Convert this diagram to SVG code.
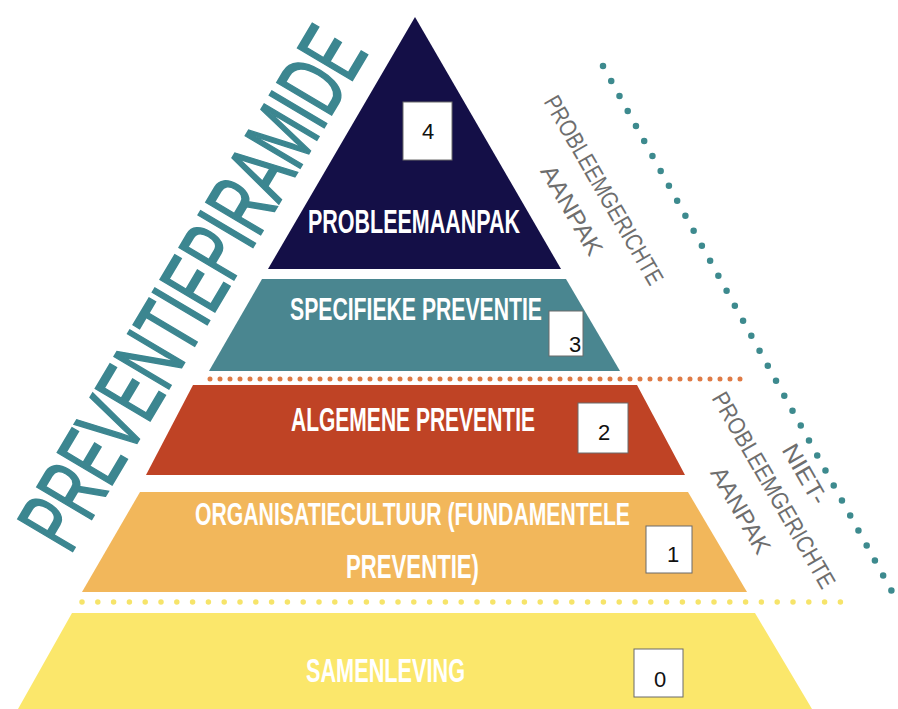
<svg xmlns="http://www.w3.org/2000/svg" width="898" height="709" viewBox="0 0 898 709">
  <style>
    .lbl { font-family: "Liberation Sans", Arial, sans-serif; font-weight: bold; fill: #ffffff; }
    .side { font-family: "Liberation Sans", Arial, sans-serif; font-size: 24px; fill: #6e6e6e; text-anchor: middle; }
    .num { font-family: "Liberation Sans", Arial, sans-serif; font-size: 22px; fill: #111111; text-anchor: middle; }
    .box { fill: #ffffff; stroke: #6a6a6a; stroke-width: 1; }
    .dots { fill: none; stroke-linecap: round; }
  </style>
  <rect x="0" y="0" width="898" height="709" fill="#ffffff"/>

  <g id="title">
    <text transform="translate(72,552) rotate(-59.3)" x="-4" y="0" font-family="Liberation Sans, Arial, sans-serif" font-size="92" fill="#3c8690" stroke="#3c8690" stroke-width="2" textLength="585" lengthAdjust="spacingAndGlyphs">PREVENTIEPIRAMIDE</text>
  </g>

  <g id="tier4">
    <polygon points="415,17 561,269 268,269" fill="#140f47"/>
    <text class="lbl" x="308" y="233" font-size="34" textLength="212" lengthAdjust="spacingAndGlyphs">PROBLEEMAANPAK</text>
    <rect class="box" x="403" y="102" width="49" height="58"/>
    <text class="num" x="428" y="139">4</text>
  </g>

  <g id="tier3">
    <polygon points="262,279 566,279 620,371 209,371" fill="#4a8690"/>
    <text class="lbl" x="290" y="320" font-size="32" textLength="252" lengthAdjust="spacingAndGlyphs">SPECIFIEKE PREVENTIE</text>
    <rect class="box" x="549" y="311" width="34" height="45"/>
    <text class="num" x="575" y="352" font-size="19">3</text>
  </g>

  <g id="tier2">
    <polygon points="193,385 637,385 685,475 146,475" fill="#bf4325"/>
    <text class="lbl" x="291" y="431" font-size="33" textLength="244" lengthAdjust="spacingAndGlyphs">ALGEMENE PREVENTIE</text>
    <rect class="box" x="578" y="403" width="50" height="50"/>
    <text class="num" x="604" y="440">2</text>
  </g>

  <g id="tier1">
    <polygon points="140,492 688,492 747,592 82,592" fill="#f2b75b"/>
    <text class="lbl" x="195" y="525" font-size="32" fill="#fff6e4" textLength="435" lengthAdjust="spacingAndGlyphs">ORGANISATIECULTUUR (FUNDAMENTELE</text>
    <text class="lbl" x="346" y="578" font-size="33" fill="#fff6e4" textLength="133" lengthAdjust="spacingAndGlyphs">PREVENTIE)</text>
    <rect class="box" x="646" y="526" width="46" height="47"/>
    <text class="num" x="673" y="562">1</text>
  </g>

  <g id="tier0">
    <polygon points="72,613 755,613 812,709 18,709" fill="#fbe76b"/>
    <text class="lbl" x="306" y="682" font-size="34" fill="#fffbe2" textLength="159" lengthAdjust="spacingAndGlyphs">SAMENLEVING</text>
    <rect class="box" x="634" y="649" width="49" height="48"/>
    <text class="num" x="660" y="687">0</text>
  </g>

  <g id="side-labels">
    <text class="side" transform="translate(604,190) rotate(60)" y="8.5" textLength="214" lengthAdjust="spacingAndGlyphs">PROBLEEMGERICHTE</text>
    <text class="side" transform="translate(572,210) rotate(60)" y="8.5" textLength="100" lengthAdjust="spacingAndGlyphs">AANPAK</text>
    <text class="side" transform="translate(805,474) rotate(60)" y="8.5" textLength="66" lengthAdjust="spacingAndGlyphs">NIET-</text>
    <text class="side" transform="translate(774,490) rotate(60)" y="8.5" textLength="222" lengthAdjust="spacingAndGlyphs">PROBLEEMGERICHTE</text>
    <text class="side" transform="translate(741,510) rotate(60)" y="8.5" textLength="96" lengthAdjust="spacingAndGlyphs">AANPAK</text>
  </g>

  <g id="connectors">
    <line class="dots" x1="210" y1="379" x2="747" y2="379" stroke="#df7a45" stroke-width="5" stroke-dasharray="0 10"/>
    <line class="dots" x1="82" y1="602" x2="852" y2="602" stroke="#f6e46a" stroke-width="5.5" stroke-dasharray="0 15.8"/>
    <line class="dots" x1="603" y1="66" x2="895" y2="597" stroke="#3d8a8e" stroke-width="6.5" stroke-dasharray="0 17.1"/>
  </g>
</svg>
